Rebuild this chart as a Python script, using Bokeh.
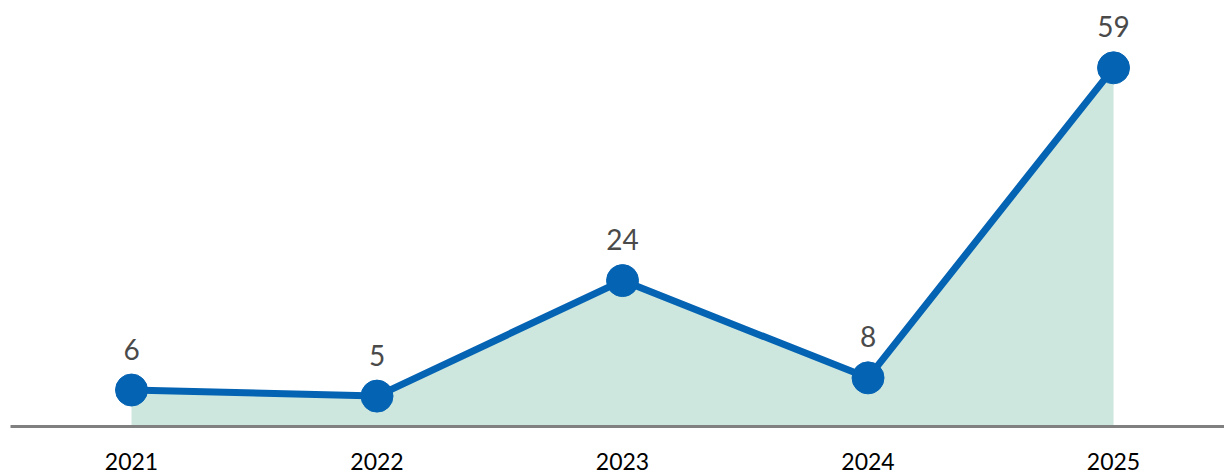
from bokeh.plotting import figure
from bokeh.models import Range1d, FixedTicker, ColumnDataSource
from bokeh.core.properties import value
from bokeh.embed import file_html
from bokeh.resources import INLINE

years = ["2021", "2022", "2023", "2024", "2025"]
counts = [6, 5, 24, 8, 59]
labels = [str(c) for c in counts]
xs = list(range(len(years)))

src = ColumnDataSource(dict(x=xs, y=counts, lab=labels, zero=[0] * len(xs)))

p = figure(width=1224, height=476, output_backend="svg", toolbar_location=None,
           x_range=Range1d(-0.4929, 4.452), y_range=Range1d(0, 70.07),
           min_border_left=10, min_border_right=0, min_border_top=0, min_border_bottom=50)
p.outline_line_color = None
p.xgrid.visible = False
p.ygrid.visible = False
p.yaxis.visible = False
p.background_fill_color = "white"
p.border_fill_color = "white"

p.varea(x="x", y1="zero", y2="y", source=src, fill_color="#cde7de")
p.line(x="x", y="y", source=src, line_color="#0563b3", line_width=7)
p.scatter(x="x", y="y", source=src, size=32, fill_color="#0563b3", line_color="#0563b3")
p.text(x="x", y="y", text="lab", source=src, text_align="center", text_baseline="middle",
       y_offset=-41, text_font=value("Lato"), text_font_size="28px", text_color="#4a4a4a")

ax = p.xaxis[0]
ax.ticker = FixedTicker(ticks=xs)
ax.major_label_overrides = {i: y for i, y in zip(xs, years)}
ax.axis_line_color = "#808080"
ax.axis_line_width = 3
ax.major_tick_line_color = None
ax.minor_tick_line_color = None
ax.major_label_text_font = "Lato"
ax.major_label_text_font_size = "23px"
ax.major_label_text_color = "#000000"
ax.major_label_standoff = 20

open("out.html", "w").write(file_html(p, INLINE))
